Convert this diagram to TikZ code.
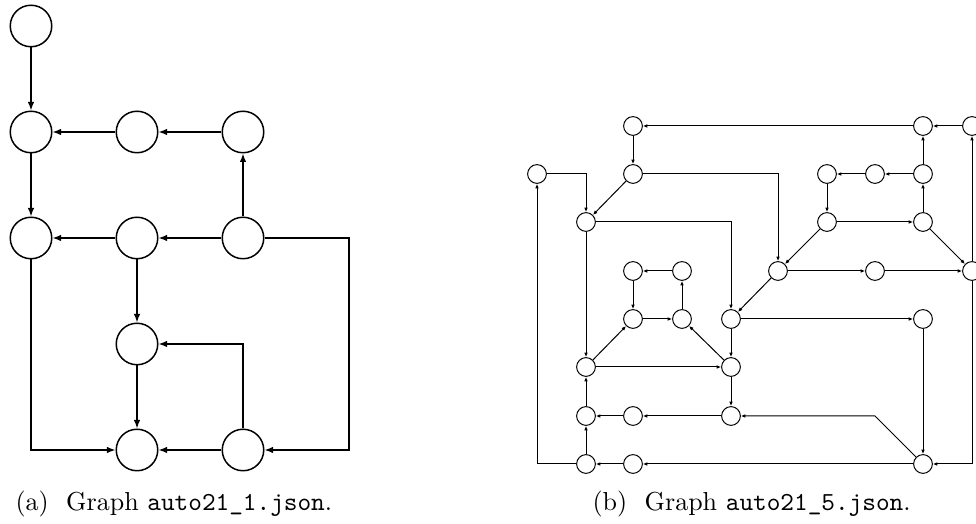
\documentclass[tikz,border=0pt]{standalone}
\usetikzlibrary{arrows.meta}
\begin{document}
\begin{tikzpicture}[x=0.4pt,y=-0.4pt,
  bignode/.style={circle,draw,line width=0.6pt,minimum size=16.6pt,inner sep=0pt},
  bigedge/.style={line width=0.6pt,-{Latex[length=3.4pt,width=2.6pt]}},
  smallnode/.style={circle,draw,line width=0.4pt,minimum size=7.5pt,inner sep=0pt},
  smalledge/.style={line width=0.4pt,-{Latex[length=1.8pt,width=1.5pt]}},
  caption/.style={anchor=base west,inner sep=0pt,font=\fontsize{10.4}{12.5}\selectfont},
]
\useasboundingbox (0,0) rectangle (976,524);

% ---------- graph (a) ----------
\node[bignode] (A) at (31,26) {};
\node[bignode] (B) at (31,132) {};
\node[bignode] (C) at (137,132) {};
\node[bignode] (D) at (243,132) {};
\node[bignode] (E) at (31,238) {};
\node[bignode] (F) at (137,238) {};
\node[bignode] (G) at (243,238) {};
\node[bignode] (H) at (137,344) {};
\node[bignode] (I) at (137,450) {};
\node[bignode] (J) at (243,450) {};
\coordinate (ga) at (349,238);

\draw[bigedge] (A) -- (B);
\draw[bigedge] (C) -- (B);
\draw[bigedge] (D) -- (C);
\draw[bigedge] (B) -- (E);
\draw[bigedge] (G) -- (D);
\draw[bigedge] (F) -- (E);
\draw[bigedge] (G) -- (F);
\draw[bigedge] (G) -- (ga) |- (J);
\draw[bigedge] (F) -- (H);
\draw[bigedge] (H) -- (I);
\draw[bigedge] (J) |- (H);
\draw[bigedge] (E) |- (I);
\draw[bigedge] (J) -- (I);

\node[caption] (capa) at (15,511) {(a)\hskip 7pt Graph \texttt{auto21\_1.json}.};

% ---------- graph (b) ----------
\node[smallnode] (n1)  at (633,126) {};
\node[smallnode] (n2)  at (923,126) {};
\node[smallnode] (n3)  at (972,126) {};
\node[smallnode] (n4)  at (537,174) {};
\node[smallnode] (n5)  at (633,174) {};
\node[smallnode] (n6)  at (827,174) {};
\node[smallnode] (n7)  at (875,174) {};
\node[smallnode] (n8)  at (923,174) {};
\node[smallnode] (n9)  at (586,222) {};
\node[smallnode] (n10) at (827,222) {};
\node[smallnode] (n11) at (923,222) {};
\node[smallnode] (n12) at (633,271) {};
\node[smallnode] (n13) at (682,271) {};
\node[smallnode] (n14) at (778,271) {};
\node[smallnode] (n15) at (875,271) {};
\node[smallnode] (n16) at (972,271) {};
\node[smallnode] (n17) at (633,319) {};
\node[smallnode] (n18) at (682,319) {};
\node[smallnode] (n19) at (731,319) {};
\node[smallnode] (n20) at (923,319) {};
\node[smallnode] (n21) at (586,367) {};
\node[smallnode] (n22) at (731,367) {};
\node[smallnode] (n23) at (586,416) {};
\node[smallnode] (n24) at (633,416) {};
\node[smallnode] (n25) at (731,416) {};
\node[smallnode] (n26) at (586,464) {};
\node[smallnode] (n27) at (633,464) {};
\node[smallnode] (n28) at (923,464) {};
\coordinate (kb) at (875,416);

\draw[smalledge] (n2) -- (n1);
\draw[smalledge] (n3) -- (n2);
\draw[smalledge] (n1) -- (n5);
\draw[smalledge] (n5) -| (n14);
\draw[smalledge] (n8) -- (n2);
\draw[smalledge] (n8) -- (n7);
\draw[smalledge] (n7) -- (n6);
\draw[smalledge] (n6) -- (n10);
\draw[smalledge] (n10) -- (n11);
\draw[smalledge] (n11) -- (n8);
\draw[smalledge] (n10) -- (n14);
\draw[smalledge] (n11) -- (n16);
\draw[smalledge] (n14) -- (n15);
\draw[smalledge] (n15) -- (n16);
\draw[smalledge] (n16) -- (n3);
\draw[smalledge] (n16) |- (n28);
\draw[smalledge] (n5) -- (n9);
\draw[smalledge] (n4) -| (n9);
\draw[smalledge] (n9) -| (n19);
\draw[smalledge] (n9) -- (n21);
\draw[smalledge] (n13) -- (n12);
\draw[smalledge] (n12) -- (n17);
\draw[smalledge] (n17) -- (n18);
\draw[smalledge] (n18) -- (n13);
\draw[smalledge] (n14) -- (n19);
\draw[smalledge] (n19) -- (n20);
\draw[smalledge] (n20) -- (n28);
\draw[smalledge] (n21) -- (n17);
\draw[smalledge] (n22) -- (n18);
\draw[smalledge] (n21) -- (n22);
\draw[smalledge] (n19) -- (n22);
\draw[smalledge] (n22) -- (n25);
\draw[smalledge] (n28) -- (kb) -- (n25);
\draw[smalledge] (n25) -- (n24);
\draw[smalledge] (n24) -- (n23);
\draw[smalledge] (n23) -- (n21);
\draw[smalledge] (n26) -- (n23);
\draw[smalledge] (n28) -- (n27);
\draw[smalledge] (n27) -- (n26);
\draw[smalledge] (n26) -| (n4);

\node[caption] (capb) at (592,511) {(b)\hskip 7pt Graph \texttt{auto21\_5.json}.};
\end{tikzpicture}
\end{document}
